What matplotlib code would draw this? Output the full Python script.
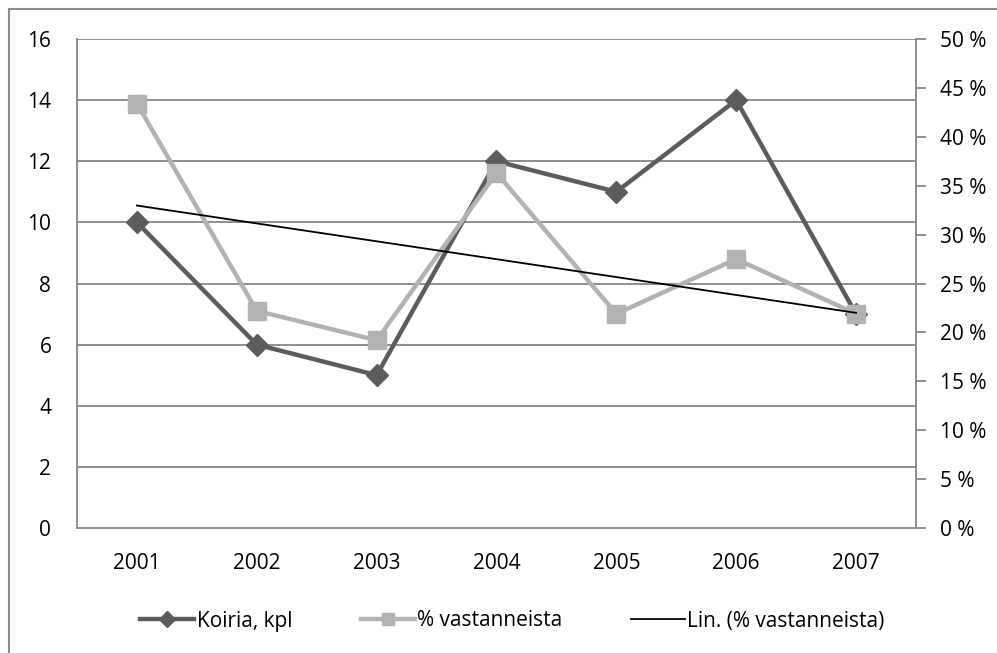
import numpy as np
import matplotlib.pyplot as plt
from matplotlib.patches import Rectangle
from matplotlib.ticker import FuncFormatter

plt.rcParams['font.family'] = ['Open Sans', 'DejaVu Sans']

vuodet = ['2001', '2002', '2003', '2004', '2005', '2006', '2007']
koiria = [10, 6, 5, 12, 11, 14, 7]
vastanneista = [0.434, 0.222, 0.192, 0.363, 0.219, 0.275, 0.219]

x = np.arange(1, len(vuodet) + 1)
grid_c = '#868686'
dark = '#5c5c5c'
light = '#b2b2b2'
fs = 15

fig = plt.figure(figsize=(9.97, 6.53), dpi=100)
ax = fig.add_axes([77/997, 1 - 528/653, (916-77)/997, (528-39)/653])
ax2 = ax.twinx()

# left axis
ax.set_xlim(0.5, 7.5)
ax.set_ylim(0, 16)
ax.set_yticks(range(0, 17, 2))
ax.set_xticks(x)
ax.set_xticklabels(vuodet)
for v in range(2, 17, 2):
    ax.axhline(v, color=grid_c, lw=1.3, zorder=0)
ax.tick_params(axis='both', length=0, labelsize=fs)
ax.tick_params(axis='y', pad=18.5)
ax.tick_params(axis='x', pad=18)
for s in ['top', 'right']:
    ax.spines[s].set_visible(False)
for s in ['left', 'bottom']:
    ax.spines[s].set_color(grid_c)
    ax.spines[s].set_linewidth(1.3)

# right axis
ax2.set_ylim(0, 0.5)
ax2.set_yticks(np.arange(0, 0.51, 0.05))
ax2.yaxis.set_major_formatter(FuncFormatter(lambda v, p: f"{v*100:.0f} %"))
ax2.tick_params(axis='y', length=7, width=1.3, color=grid_c, labelsize=fs, pad=10)
for s in ['top', 'left', 'bottom']:
    ax2.spines[s].set_visible(False)
ax2.spines['right'].set_color(grid_c)
ax2.spines['right'].set_linewidth(1.3)

l1, = ax2.plot(x, np.array(koiria) / 32, color=dark, lw=3.2, marker='D',
               markersize=11, zorder=3, label='Koiria, kpl')
l2, = ax2.plot(x, vastanneista, color=light, lw=3.2, marker='s',
               markersize=13, zorder=4, label='% vastanneista')
k, b = np.polyfit(x, vastanneista, 1)
l3, = ax2.plot(x[[0, -1]], k * x[[0, -1]] + b, color='black', lw=1.3,
               zorder=5, label='Lin. (% vastanneista)')

fig.legend(handles=[l1, l2, l3], loc='center', bbox_to_anchor=(0.514, 1 - 621/653),
           ncol=3, frameon=False, fontsize=fs, handlelength=2.6,
           handletextpad=0.1, columnspacing=3.3, markerscale=0.7)

fig.patches.append(Rectangle((9/997, -0.1), 1.2, 1 - 9/653 + 0.1,
                             transform=fig.transFigure, fill=False,
                             edgecolor='#8c8c8c', lw=1.5))

fig.savefig('out.png', dpi=100)
